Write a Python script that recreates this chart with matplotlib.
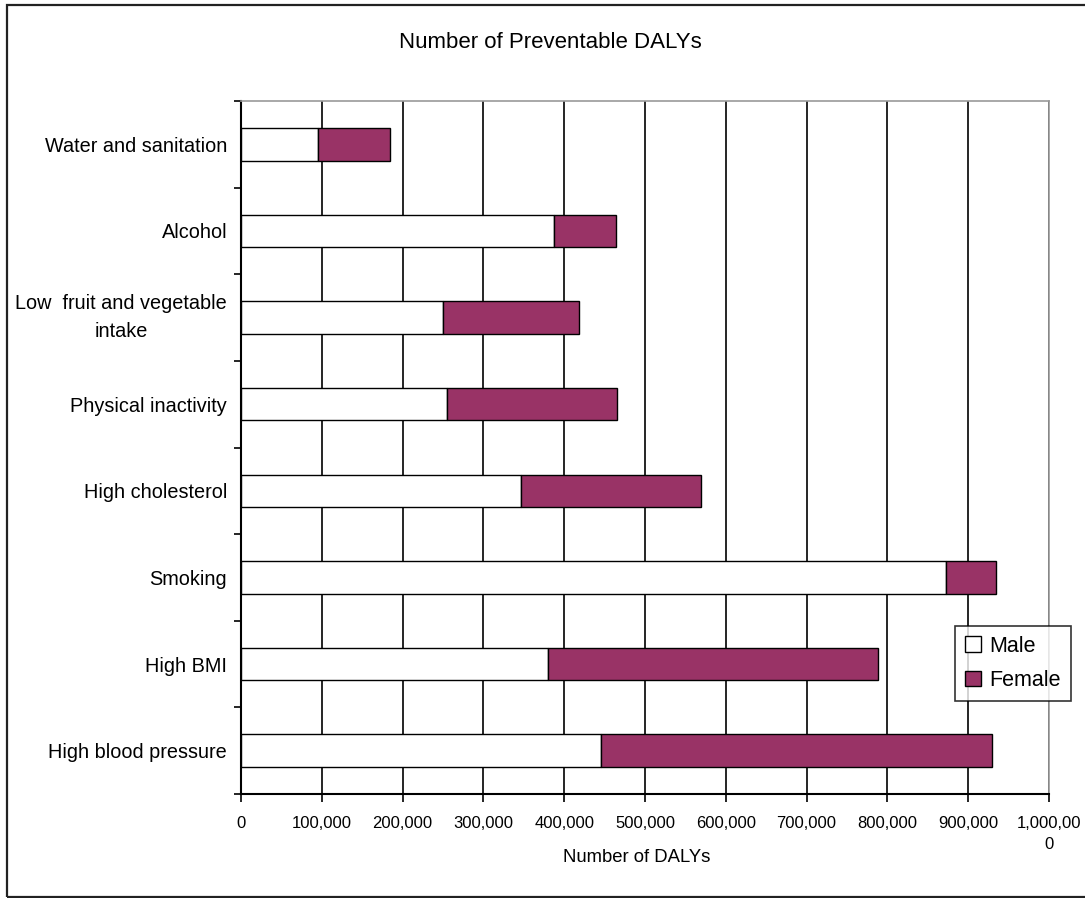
import numpy as np
import matplotlib
matplotlib.use('Agg')
import matplotlib.pyplot as plt
from matplotlib.patches import Rectangle

# Preventable DALYs by risk factor, split by sex
risk_factors = ['Water and sanitation',
                'Alcohol',
                'Low  fruit and vegetable\nintake',
                'Physical inactivity',
                'High cholesterol',
                'Smoking',
                'High BMI',
                'High blood pressure']
male = [95000, 388000, 250000, 255000, 346000, 872000, 380000, 445000]
female = [90000, 76000, 168000, 210000, 223000, 63000, 408000, 485000]

x_ticks = [0, 100000, 200000, 300000, 400000, 500000,
           600000, 700000, 800000, 900000, 1000000]
x_ticklabels = ['0', '100,000', '200,000', '300,000', '400,000', '500,000',
                '600,000', '700,000', '800,000', '900,000', '1,000,00\n0']

plt.rcParams['font.family'] = ['Liberation Sans', 'DejaVu Sans']

fig = plt.figure(figsize=(10.85, 8.98), dpi=100)
ax = fig.add_axes([0.2221, 0.1158, 0.7447, 0.7717])

y = np.arange(len(risk_factors))
bar_h = 0.375

ax.barh(y, male, height=bar_h, color='white', edgecolor='black',
        linewidth=1.0, label='Male', zorder=3)
ax.barh(y, female, left=male, height=bar_h, color='#993366',
        edgecolor='black', linewidth=1.0, label='Female', zorder=3)

ax.set_xlim(0, 1000000)
ax.set_ylim(len(risk_factors) - 0.5, -0.5)

# vertical gridlines
ax.set_xticks(x_ticks)
ax.set_xticklabels(x_ticklabels, fontsize=12, linespacing=1.5)
ax.xaxis.grid(True, color='black', linewidth=1.2, zorder=1)
ax.tick_params(axis='x', direction='out', length=6, width=1.2, pad=10)

# category labels at centres, tick marks between categories
ax.set_yticks(y)
ax.set_yticklabels(risk_factors, fontsize=14.3, multialignment='center',
                   linespacing=1.6)
for lbl in ax.get_yticklabels():
    if '\n' in lbl.get_text():
        lbl.set_va('center')
ax.set_yticks(np.arange(len(risk_factors) + 1) - 0.5, minor=True)
ax.tick_params(axis='y', which='major', length=0, pad=10)
ax.tick_params(axis='y', which='minor', direction='out', length=5, width=1.2)

for side in ['top', 'right']:
    ax.spines[side].set_color('#9a9a9a')
    ax.spines[side].set_linewidth(1.2)
for side in ['left', 'bottom']:
    ax.spines[side].set_color('black')
    ax.spines[side].set_linewidth(1.5)

leg = ax.legend(loc='upper left', bbox_to_anchor=(0.8802, 0.3029),
                bbox_transform=fig.transFigure, fontsize=15.5,
                frameon=True, fancybox=False, handlelength=0.75,
                handleheight=0.75, handletextpad=0.4, borderpad=0.45,
                labelspacing=0.62, borderaxespad=0)
leg.get_frame().set_edgecolor('black')
leg.get_frame().set_linewidth(1.2)

fig.text(0.507, 1 - 43 / 898, 'Number of Preventable DALYs',
         ha='center', va='center', fontsize=16)
fig.text(637 / 1085, 1 - 858 / 898, 'Number of DALYs',
         ha='center', va='center', fontsize=13.3)

# border round the whole chart
fig.patches.append(Rectangle((7 / 1085, 1 / 898), 1090 / 1085, 892 / 898,
                             transform=fig.transFigure, fill=False,
                             edgecolor='#222222', linewidth=1.6))

fig.savefig('out.png', dpi=100, facecolor='white')
